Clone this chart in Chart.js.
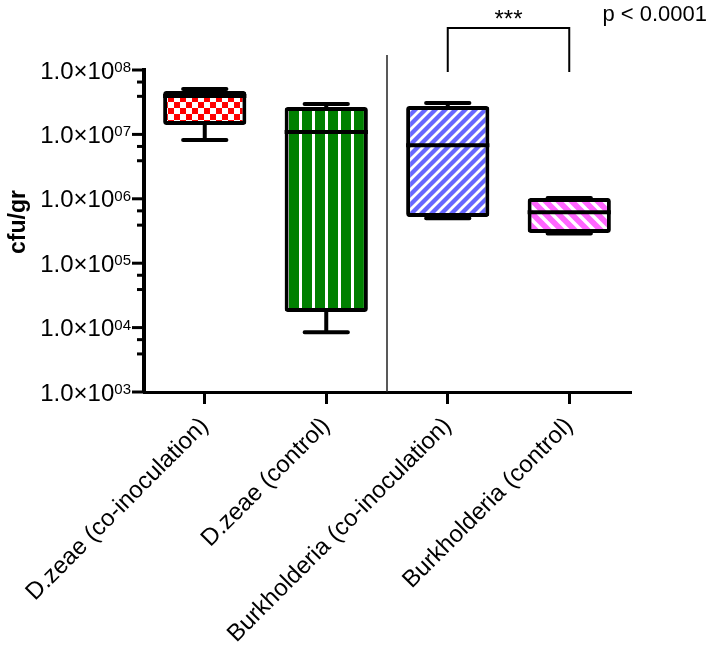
<!DOCTYPE html>
<html>
<head>
<meta charset="utf-8">
<script src="https://cdn.jsdelivr.net/npm/chart.js@4.4.0/dist/chart.umd.min.js"></script>
<style>
    html, body { margin: 0; padding: 0; background: #fff; }
    canvas { display: block; }
</style>
</head>
<body>
<canvas id="cfuChart" width="709" height="648"></canvas>
<script>
const categories = [
    'D.zeae (co-inoculation)',
    'D.zeae (control)',
    'Burkholderia (co-inoculation)',
    'Burkholderia (control)',
];
// box plot values, cfu/gr
const minValues = [8.2e6, 8.5e3, 5.0e5, 2.9e5];
const q1Values = [1.40e7, 1.75e4, 5.2e5, 2.95e5];
const medianValues = [3.95e7, 1.09e7, 6.8e6, 6.2e5];
const q3Values = [4.72e7, 2.66e7, 2.76e7, 1.03e6];
const maxValues = [5.07e7, 2.97e7, 3.08e7, 1.03e6];

const yTickExponents = [3, 4, 5, 6, 7, 8];
const yMinorFactors = [0.65, 0.39];
const yTitle = 'cfu/gr';
const significanceLabel = '***';
const pValueLabel = 'p < 0.0001';

Chart.defaults.font.family = 'Arial';
Chart.defaults.color = '#000';

function makePattern(w, h, paint) {
    const c = document.createElement('canvas');
    c.width = w;
    c.height = h;
    const g = c.getContext('2d');
    paint(g, w, h);
    return c.getContext('2d').createPattern(c, 'repeat');
}

const checkerRed = makePattern(12, 12, (g) => {
    g.fillStyle = '#fff';
    g.fillRect(0, 0, 12, 12);
    g.fillStyle = '#ff0000';
    g.fillRect(0, 0, 6, 6);
    g.fillRect(6, 6, 6, 6);
});

const stripesGreen = makePattern(13, 4, (g) => {
    g.fillStyle = '#008000';
    g.fillRect(0, 0, 13, 4);
    g.fillStyle = '#fff';
    g.fillRect(0, 0, 3, 4);
});

function diagonal(color, size, lw, rising) {
    return makePattern(size, size, (g) => {
        g.fillStyle = color;
        g.fillRect(0, 0, size, size);
        g.strokeStyle = '#fff';
        g.lineWidth = lw;
        g.beginPath();
        for (let k = -1; k <= 1; k++) {
            if (rising) {
                g.moveTo(k * size - 1, size + 1);
                g.lineTo(k * size + size + 1, -1);
            } else {
                g.moveTo(k * size - 1, -1);
                g.lineTo(k * size + size + 1, size + 1);
            }
        }
        g.stroke();
    });
}

const hatchBlue = diagonal('#6666ff', 10, 2.8, true);
const hatchPink = diagonal('#ff66ff', 13, 3.5, false);

const boxExtras = {
    id: 'boxExtras',
    afterDatasetsDraw(chart) {
        const { ctx } = chart;
        const y = chart.scales.y;
        const meta = chart.getDatasetMeta(0);
        ctx.save();
        ctx.strokeStyle = '#000';
        ctx.lineWidth = 4;
        meta.data.forEach((bar, i) => {
            const half = bar.width / 2;
            const capHalf = bar.width * 0.26;
            const yMed = y.getPixelForValue(medianValues[i]);
            ctx.lineCap = 'butt';
            ctx.beginPath();
            ctx.moveTo(bar.x - half, yMed);
            ctx.lineTo(bar.x + half, yMed);
            ctx.stroke();

            ctx.lineCap = 'round';
            [[q3Values[i], maxValues[i]], [q1Values[i], minValues[i]]].forEach(([from, to]) => {
                const y0 = y.getPixelForValue(from);
                const y1 = y.getPixelForValue(to);
                ctx.beginPath();
                ctx.moveTo(bar.x, y0);
                ctx.lineTo(bar.x, y1);
                ctx.moveTo(bar.x - capHalf, y1);
                ctx.lineTo(bar.x + capHalf, y1);
                ctx.stroke();
            });
        });
        ctx.restore();
    },
    afterDraw(chart) {
        const { ctx, chartArea } = chart;
        const y = chart.scales.y;
        const x = chart.scales.x;
        const axisX = chartArea.left;
        ctx.save();

        // y ticks with 1.0x10^nn labels
        ctx.strokeStyle = '#000';
        ctx.fillStyle = '#000';
        ctx.lineWidth = 3;
        yTickExponents.forEach((e) => {
            const py = y.getPixelForValue(Math.pow(10, e));
            ctx.beginPath();
            ctx.moveTo(axisX - 12, py);
            ctx.lineTo(axisX, py);
            ctx.stroke();
            if (e > yTickExponents[0]) {
                yMinorFactors.forEach((f) => {
                    const my = y.getPixelForValue(Math.pow(10, e) * f);
                    ctx.beginPath();
                    ctx.moveTo(axisX - 7, my);
                    ctx.lineTo(axisX, my);
                    ctx.stroke();
                });
            }
            const sup = String(e).padStart(2, '0');
            ctx.font = '15px Arial';
            const supW = ctx.measureText(sup).width;
            const right = axisX - 13;
            ctx.textAlign = 'right';
            ctx.textBaseline = 'alphabetic';
            ctx.fillText(sup, right, py + 2);
            ctx.font = '24px Arial';
            ctx.fillText('1.0×10', right - supW, py + 8.6);
        });

        // axis title
        ctx.save();
        ctx.translate(19, (chartArea.top + chartArea.bottom) / 2 - 9);
        ctx.rotate(-Math.PI / 2);
        ctx.font = 'bold 23px Arial';
        ctx.textAlign = 'center';
        ctx.textBaseline = 'middle';
        ctx.fillText(yTitle, 0, 0);
        ctx.restore();

        // divider between the two organisms
        const xMid = (x.getPixelForValue(1) + x.getPixelForValue(2)) / 2;
        ctx.lineWidth = 1.5;
        ctx.strokeStyle = '#222';
        ctx.beginPath();
        ctx.moveTo(xMid, chartArea.top - 15);
        ctx.lineTo(xMid, chartArea.bottom);
        ctx.stroke();

        // significance bracket
        const xa = x.getPixelForValue(2);
        const xb = x.getPixelForValue(3);
        const top = chartArea.top - 42;
        ctx.lineWidth = 2;
        ctx.strokeStyle = '#000';
        ctx.beginPath();
        ctx.moveTo(xa, chartArea.top + 2);
        ctx.lineTo(xa, top);
        ctx.lineTo(xb, top);
        ctx.lineTo(xb, chartArea.top + 2);
        ctx.stroke();

        ctx.font = '24px Arial';
        ctx.textAlign = 'center';
        ctx.fillText(significanceLabel, (xa + xb) / 2, top - 1);
        ctx.font = '22px Arial';
        ctx.textAlign = 'right';
        ctx.fillText(pValueLabel, chart.width - 2, 21);
        ctx.restore();
    },
};

new Chart(document.getElementById('cfuChart'), {
    type: 'bar',
    data: {
        labels: categories,
        datasets: [
            {
                data: categories.map((c, i) => [q1Values[i], q3Values[i]]),
                backgroundColor: [checkerRed, stripesGreen, hatchBlue, hatchPink],
                borderColor: '#000',
                borderWidth: 4,
                borderRadius: 3,
                borderSkipped: false,
                barPercentage: 0.685,
                categoryPercentage: 1,
            },
        ],
    },
    options: {
        responsive: false,
        animation: false,
        layout: {
            padding: { top: 70, right: 79, left: 0, bottom: 0 },
        },
        plugins: {
            legend: { display: false },
            tooltip: { enabled: false },
        },
        scales: {
            x: {
                afterFit(scale) {
                    scale.height = 256;
                },
                grid: {
                    display: true,
                    drawOnChartArea: false,
                    drawTicks: true,
                    tickLength: 12,
                    tickWidth: 3,
                    tickColor: '#000',
                    lineWidth: 3,
                    offset: false,
                },
                border: { display: true, color: '#000', width: 3 },
                ticks: {
                    font: { size: 24 },
                    color: '#000',
                    minRotation: 45,
                    maxRotation: 45,
                    autoSkip: false,
                    padding: 8,
                },
            },
            y: {
                type: 'logarithmic',
                min: 1e3,
                max: 1e8,
                afterFit(scale) {
                    scale.width = 144;
                },
                grid: { display: false },
                border: { display: true, color: '#000', width: 4 },
                ticks: { display: false },
            },
        },
    },
    plugins: [boxExtras],
});
</script>
</body>
</html>
